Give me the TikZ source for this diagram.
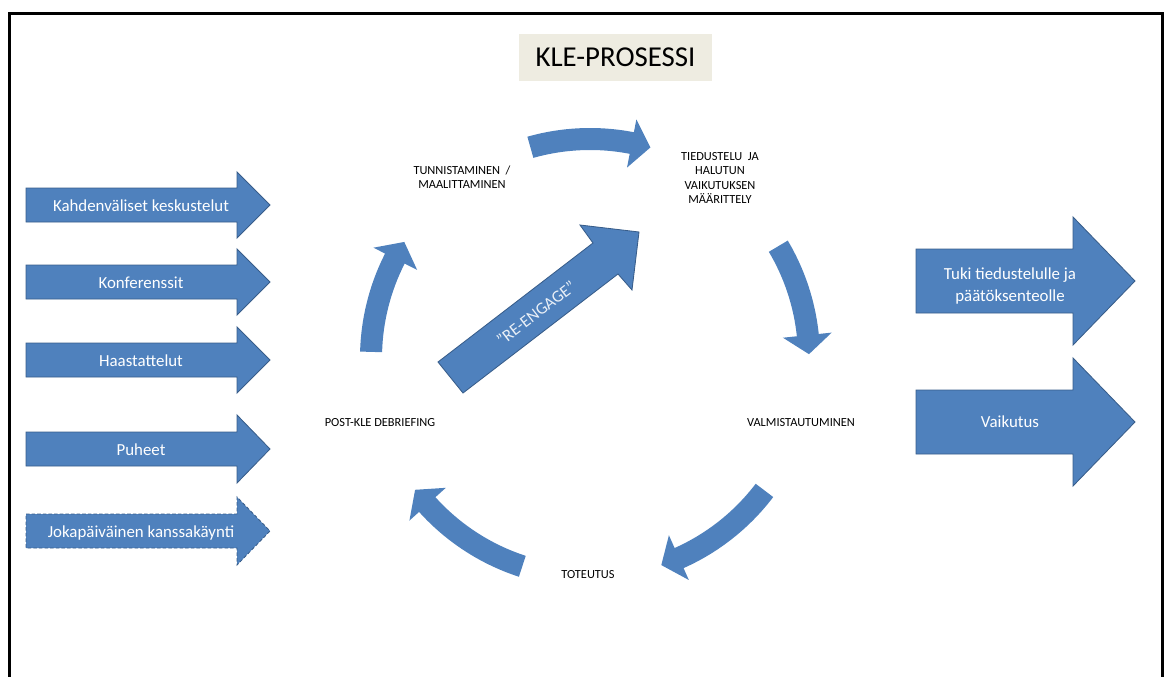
\documentclass[tikz,border=0pt]{standalone}
\usepackage{fontspec}
\setmainfont{Carlito}
\definecolor{arrowblue}{RGB}{79,129,189}
\definecolor{arrowedge}{RGB}{56,93,138}
\definecolor{titlebg}{RGB}{238,236,225}

% kaareva nuoli syklissa: #1 = hännän kulma, #2 = kärjen kulma (myötäpäivään)
\newcommand{\kaari}[2]{%
    \fill[arrowblue] (#1:208) arc[start angle=#1, end angle={#2+5}, radius=208]
        -- ({#2+5}:194) -- (#2:219) -- ({#2+5}:243) -- ({#2+5}:230)
        arc[start angle={#2+5}, end angle=#1, radius=230] -- cycle;}

\begin{document}
\begin{tikzpicture}[x=0.025cm, y=0.025cm,
    boxarrow/.style={fill=arrowblue, draw=arrowedge, line width=0.6pt},
    arrowtext/.style={text=white, font=\fontsize{12}{15}\selectfont, align=center, inner sep=0pt},
    phase/.style={font=\fontsize{8.8}{10}\selectfont, align=center, inner sep=0pt}]

    \useasboundingbox (0,0) rectangle (1165,-677);
    \draw[line width=2.1pt] (9.5,-700) -- (9.5,-13.5) -- (1162.5,-13.5) -- (1162.5,-700);

    \node[fill=titlebg, minimum width=4.825cm, minimum height=1.175cm, inner sep=0pt,
        font=\fontsize{20.5}{24}\selectfont] (otsikko) at (615.5,-57.5) {KLE-PROSESSI};

    % vasemman reunan nuolet
    \draw[boxarrow] (26,-188) -- (237,-188) -- (237,-172) -- (270,-205) -- (237,-238) -- (237,-222) -- (26,-222) -- cycle;
    \draw[boxarrow] (26,-265) -- (237,-265) -- (237,-249) -- (270,-282) -- (237,-315) -- (237,-299) -- (26,-299) -- cycle;
    \draw[boxarrow] (26,-343) -- (237,-343) -- (237,-327) -- (270,-360) -- (237,-393) -- (237,-377) -- (26,-377) -- cycle;
    \draw[boxarrow] (26,-432) -- (237,-432) -- (237,-415) -- (270,-449) -- (237,-483) -- (237,-466) -- (26,-466) -- cycle;
    \draw[boxarrow, dashed, dash pattern=on 2.5pt off 1.5pt] (26,-514) -- (237,-514) -- (237,-497) -- (270,-531) -- (237,-565) -- (237,-548) -- (26,-548) -- cycle;

    \node[arrowtext, anchor=base] (kahdenvaliset) at (141,-211) {Kahdenväliset keskustelut};
    \node[arrowtext, anchor=base] (konferenssit) at (141,-288) {Konferenssit};
    \node[arrowtext, anchor=base] (haastattelut) at (141,-366) {Haastattelut};
    \node[arrowtext, anchor=base] (puheet) at (141,-455) {Puheet};
    \node[arrowtext, anchor=base] (jokapaivainen) at (141,-537) {Jokapäiväinen kanssakäynti};

    % oikean reunan nuolet
    \draw[boxarrow] (916,-249) -- (1073,-249) -- (1073,-217) -- (1135,-281) -- (1073,-345) -- (1073,-313) -- (916,-313) -- cycle;
    \draw[boxarrow] (916,-390) -- (1073,-390) -- (1073,-358) -- (1135,-422) -- (1073,-486) -- (1073,-454) -- (916,-454) -- cycle;

    \node[arrowtext] (tuki) at (1010,-286) {Tuki tiedustelulle ja\\päätöksenteolle};
    \node[arrowtext, anchor=base] (vaikutus) at (1010,-427) {Vaikutus};

    % sykli
    \begin{scope}[shift={(590,-358)}]
        \kaari{105.8}{74}
        \kaari{30.7}{1}
        \kaari{-37.2}{-71}
        \kaari{-108}{-143}
        \kaari{178.4}{148}
    \end{scope}

    \node[phase] (tunnistaminen) at (462,-177) {TUNNISTAMINEN\ \ /\\MAALITTAMINEN};
    \node[phase] (tiedustelu) at (720,-178) {TIEDUSTELU\ \ JA\\HALUTUN\\VAIKUTUKSEN\\MÄÄRITTELY};
    \node[phase] (valmistautuminen) at (801,-423) {VALMISTAUTUMINEN};
    \node[phase] (toteutus) at (588,-575) {TOTEUTUS};
    \node[phase] (debriefing) at (380,-423) {POST-KLE DEBRIEFING};

    % re-engage
    \draw[boxarrow] (438,-362) -- (593,-243) -- (580,-225) -- (639,-232) -- (632,-290) -- (618,-274) -- (463,-393) -- cycle;
    \node[arrowtext, text=white!88!arrowblue, rotate=37.5] (reengage) at (536,-313) {”RE-ENGAGE”};

\end{tikzpicture}
\end{document}
